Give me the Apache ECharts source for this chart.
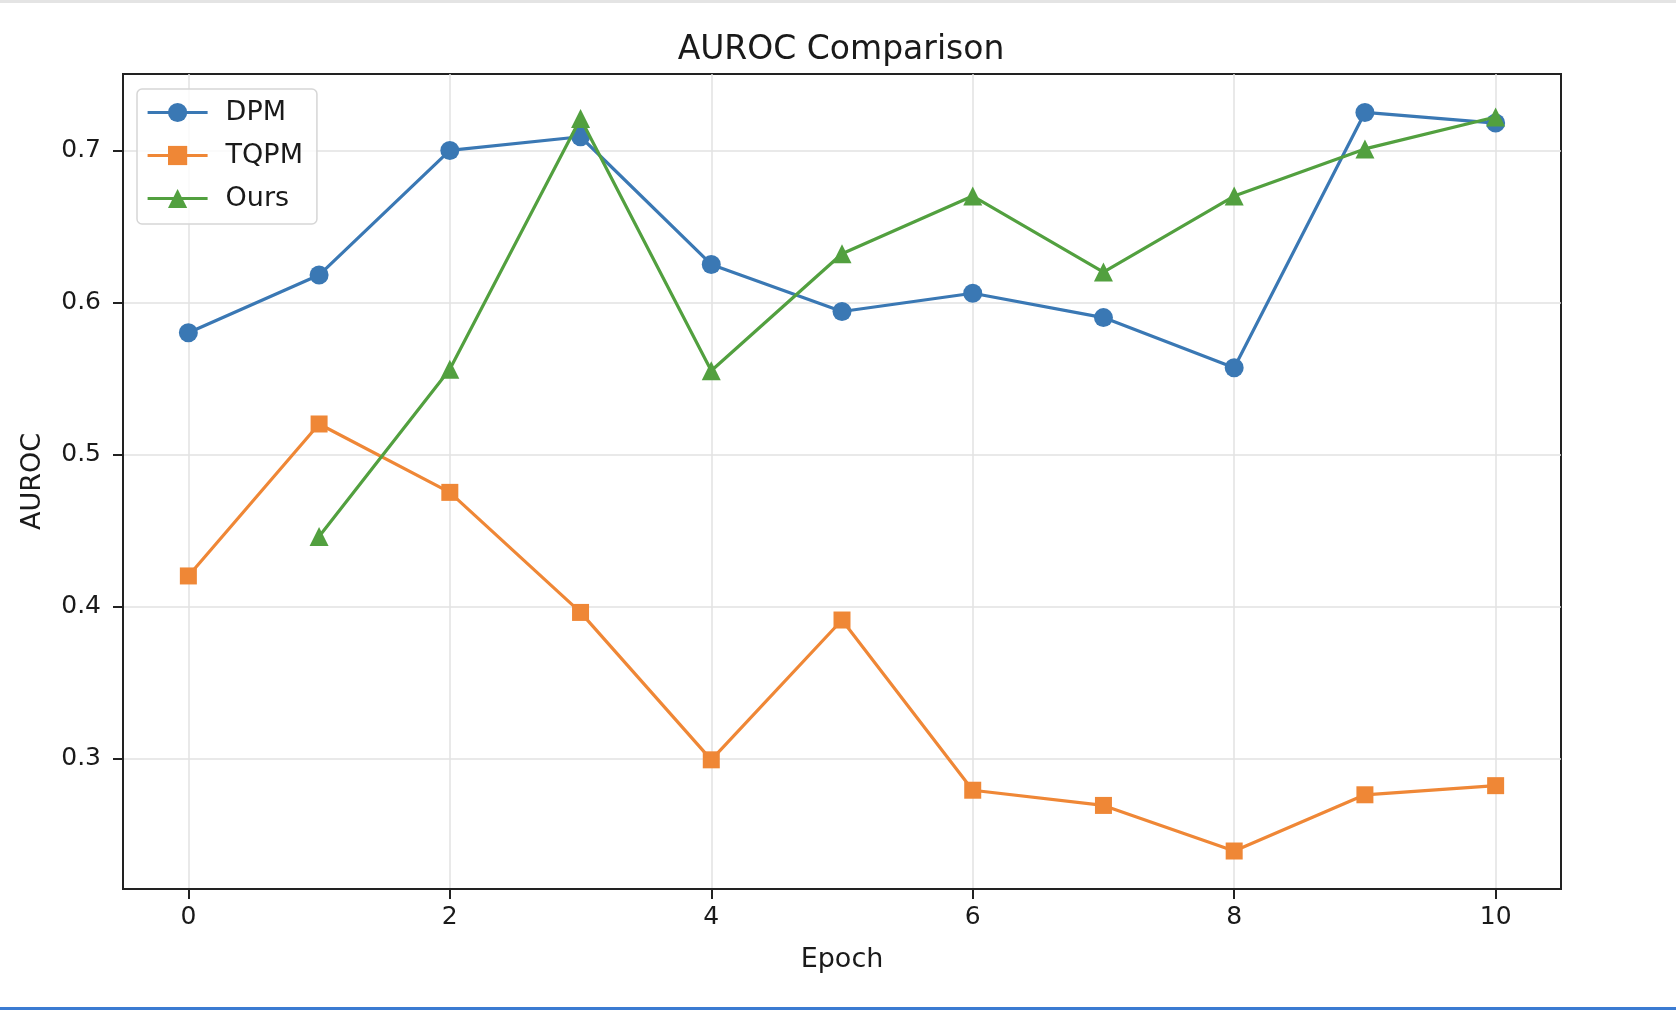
<!DOCTYPE html>
<html>
<head>
<meta charset="utf-8">
<script src="https://cdn.jsdelivr.net/npm/echarts@6/dist/echarts.min.js"></script>
<style>
  html, body { margin: 0; padding: 0; background: #fff; }
  #chart { width: 1676px; height: 1014px; }
</style>
</head>
<body>
<div id="chart"></div>
<script>
// values
var epochs = [0, 1, 2, 3, 4, 5, 6, 7, 8, 9, 10];
var dpm = [0.580, 0.618, 0.700, 0.709, 0.625, 0.594, 0.606, 0.590, 0.557, 0.725, 0.718];
var tqpm = [0.420, 0.520, 0.475, 0.396, 0.299, 0.391, 0.279, 0.269, 0.239, 0.276, 0.282];
var ours = [null, 0.446, 0.556, 0.721, 0.555, 0.632, 0.670, 0.620, 0.670, 0.701, 0.722];
var xTicks = [0, 2, 4, 6, 8, 10];
var yTicks = [0.3, 0.4, 0.5, 0.6, 0.7];

var FONT = 'DejaVu Sans';
var TXT = '#1a1a1a';
var LW = 3.2;

function pairs(vals) {
  return epochs.map(function (e, i) { return [e, vals[i]]; })
    .filter(function (p) { return p[1] != null; });
}

var chart = echarts.init(document.getElementById('chart'));

var option = {
  backgroundColor: '#fff',
  animation: false,
  title: {
    text: 'AUROC Comparison',
    left: 836,
    top: 29,
    textAlign: 'center',
    textStyle: { fontFamily: FONT, fontSize: 33, fontWeight: 'normal', color: TXT }
  },
  legend: {
    left: 137,
    top: 89,
    orient: 'vertical',
    padding: [10, 14, 12, 9],
    itemWidth: 60,
    itemHeight: 24,
    itemGap: 16,
    backgroundColor: 'rgba(255,255,255,0.8)',
    borderColor: '#d6d6d6',
    borderWidth: 1.5,
    borderRadius: 5,
    lineStyle: { width: LW },
    textStyle: { fontFamily: FONT, fontSize: 27, color: TXT, padding: [0, 0, 0, 13] },
    data: ['DPM', 'TQPM', 'Ours']
  },
  grid: {
    left: 123,
    right: 115,
    top: 74,
    bottom: 125,
    containLabel: false,
    outerBoundsMode: 'none',
    show: true,
    borderColor: '#222',
    borderWidth: 2
  },
  xAxis: {
    type: 'value',
    min: -0.5,
    max: 10.5,
    name: 'Epoch',
    nameLocation: 'middle',
    nameGap: 57,
    nameTextStyle: { fontFamily: FONT, fontSize: 27, color: TXT },
    axisLine: { show: true, onZero: false, lineStyle: { color: '#222', width: 2 } },
    axisTick: { show: true, length: 10, lineStyle: { color: '#222', width: 2 }, customValues: xTicks },
    axisLabel: { fontFamily: FONT, fontSize: 25, color: TXT, margin: 16, customValues: xTicks },
    splitLine: { show: true, lineStyle: { color: '#e2e2e2', width: 1.5 } }
  },
  yAxis: {
    type: 'value',
    min: 0.214,
    max: 0.7503,
    name: 'AUROC',
    nameLocation: 'middle',
    nameGap: 77,
    nameTextStyle: { fontFamily: FONT, fontSize: 27, color: TXT },
    axisLine: { show: true, onZero: false, lineStyle: { color: '#222', width: 2 } },
    axisTick: { show: true, length: 10, lineStyle: { color: '#222', width: 2 }, customValues: yTicks },
    axisLabel: {
      fontFamily: FONT, fontSize: 25, color: TXT, margin: 22, customValues: yTicks,
      formatter: function (v) { return v.toFixed(1); }
    },
    splitLine: { show: true, lineStyle: { color: '#e2e2e2', width: 1.5 } }
  },
  series: [
    {
      name: 'DPM',
      type: 'line',
      data: pairs(dpm),
      symbol: 'circle',
      symbolSize: 19,
      color: '#3a78b4',
      lineStyle: { width: LW },
      z: 3
    },
    {
      name: 'TQPM',
      type: 'line',
      data: pairs(tqpm),
      symbol: 'rect',
      symbolSize: 17,
      color: '#ef8736',
      lineStyle: { width: LW },
      z: 4
    },
    {
      name: 'Ours',
      type: 'line',
      data: pairs(ours),
      symbol: 'triangle',
      symbolSize: 19,
      color: '#52a03f',
      lineStyle: { width: LW },
      z: 5
    }
  ],
  graphic: [
    { type: 'rect', left: 0, top: 0, shape: { width: 1676, height: 3 }, style: { fill: '#e4e4e4' }, silent: true },
    { type: 'rect', left: 0, top: 1007, shape: { width: 1676, height: 3 }, style: { fill: '#3b7bd2' }, silent: true }
  ]
};

chart.setOption(option);
</script>
</body>
</html>
